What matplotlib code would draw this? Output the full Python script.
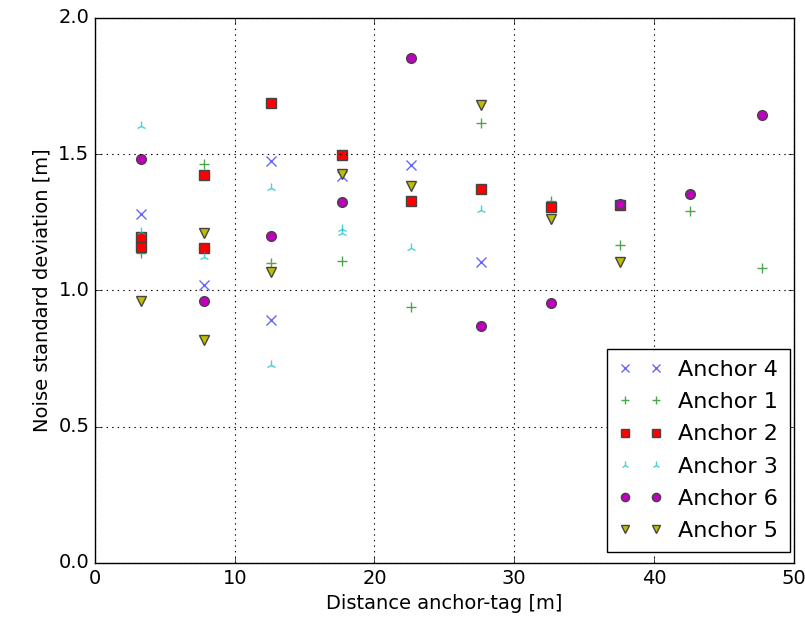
import matplotlib
matplotlib.use('Agg')
import matplotlib.pyplot as plt

plt.style.use('classic')

# x position of each measurement column (m)
cols = [3.3, 7.8, 12.6, 17.7, 22.6, 27.6, 32.6, 37.6, 42.6, 47.7]

a4_x = [cols[0], cols[1], cols[2], cols[2], cols[3], cols[4], cols[5]]
a4_y = [1.28, 1.02, 1.474, 0.892, 1.42, 1.461, 1.106]

a1_x = [cols[0], cols[1], cols[2], cols[3], cols[4], cols[5], cols[6], cols[7], cols[8], cols[9]]
a1_y = [1.138, 1.464, 1.101, 1.108, 0.939, 1.616, 1.33, 1.167, 1.292, 1.084]

a2_x = [cols[0], cols[0], cols[1], cols[1], cols[2], cols[3], cols[4], cols[5], cols[6], cols[7]]
a2_y = [1.197, 1.161, 1.424, 1.155, 1.687, 1.497, 1.328, 1.371, 1.305, 1.314]

a3_x = [cols[0], cols[0], cols[1], cols[2], cols[2], cols[3], cols[3], cols[4], cols[5]]
a3_y = [1.604, 1.215, 1.124, 1.377, 0.727, 1.226, 1.211, 1.155, 1.295]

a6_x = cols
a6_y = [1.483, 0.963, 1.200, 1.325, 1.854, 0.871, 0.955, 1.316, 1.354, 1.645]

a5_x = [cols[0], cols[1], cols[1], cols[2], cols[3], cols[4], cols[5], cols[6], cols[7]]
a5_y = [0.961, 1.210, 0.818, 1.067, 1.428, 1.385, 1.681, 1.261, 1.106]

fig = plt.figure(figsize=(8.05, 6.19), dpi=100, facecolor='white')
ax = fig.add_axes([0.118, 0.0905, 0.868, 0.8805])

ax.plot(a4_x, a4_y, 'x', color='b', alpha=0.6, ms=7, mew=1.0, label='Anchor 4')
ax.plot(a1_x, a1_y, '+', color='g', alpha=0.7, ms=7, mew=1.0, label='Anchor 1')
ax.plot(a2_x, a2_y, 's', color='r', mec='#444444', ms=7, mew=1.0, label='Anchor 2')
ax.plot(a3_x, a3_y, '2', color='c', alpha=0.7, ms=7, mew=1.0, label='Anchor 3')
ax.plot(a6_x, a6_y, 'o', color='m', mec='#444444', ms=7, mew=1.0, label='Anchor 6')
ax.plot(a5_x, a5_y, 'v', color='y', mec='#444444', ms=7, mew=1.0, label='Anchor 5')

ax.set_xlim(0, 50)
ax.set_ylim(0, 2.0)
ax.set_xticks([0, 10, 20, 30, 40, 50])
ax.set_yticks([0.0, 0.5, 1.0, 1.5, 2.0])
ax.tick_params(labelsize=14)
ax.grid(True, color='k', linestyle=':', linewidth=0.8)
ax.set_xlabel('Distance anchor-tag [m]', fontsize=14)
ax.set_ylabel('Noise standard deviation [m]', fontsize=14)

leg = ax.legend(loc='lower right', bbox_to_anchor=(0.994, 0.02), borderaxespad=0,
                numpoints=2, fontsize=16, fancybox=False, markerscale=0.85,
                handlelength=2.0, handletextpad=0.7, labelspacing=0.55, borderpad=0.5)
leg.get_frame().set_edgecolor('k')
leg.get_frame().set_linewidth(1.0)

fig.savefig('out.png', dpi=100, facecolor='white')
